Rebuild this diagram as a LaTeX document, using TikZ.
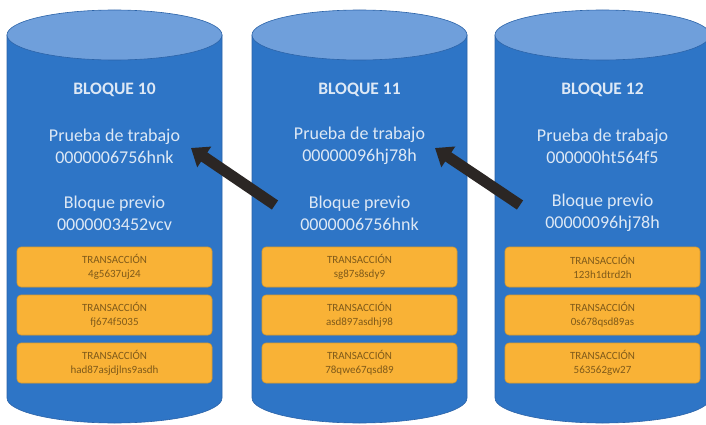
\documentclass[tikz,border=0pt]{standalone}
\usepackage{fontspec}
\setmainfont{Carlito}
\usetikzlibrary{arrows.meta}

\definecolor{cylbody}{HTML}{2E75C6}
\definecolor{cyltop}{HTML}{6F9FDB}
\definecolor{cyledge}{HTML}{2B63A8}
\definecolor{cyltext}{HTML}{DDE8F5}
\definecolor{txfill}{HTML}{F9B236}
\definecolor{txedge}{HTML}{D99A2B}
\definecolor{txtext}{HTML}{7F5A1A}
\definecolor{chain}{HTML}{2B2624}

\tikzset{
  title/.style={text=cyltext, font=\fontsize{17.5}{20}\selectfont\bfseries, align=center},
  info/.style={text=cyltext, font=\fontsize{18}{22}\selectfont, align=center},
  txbox/.style={fill=txfill, draw=txedge, line width=0.6pt, rounded corners=4pt,
    minimum width=195pt, minimum height=40pt, inner sep=0pt,
    text=txtext, font=\fontsize{11}{13.5}\selectfont, align=center},
  chainarrow/.style={draw=chain, line width=11pt,
    -{Triangle[width=24pt,length=16pt]}}
}

% one storage cylinder centred at the given x
\newcommand{\blockcyl}[1]{%
  \fill[cylbody, draw=cyledge, line width=0.6pt]
    (#1-107.5,389) -- (#1-107.5,26)
    arc[start angle=180, end angle=360, x radius=107.5, y radius=25]
    -- (#1+107.5,389) -- cycle;
  \fill[cyltop, draw=cyledge, line width=0.6pt]
    (#1,389) ellipse [x radius=107.5, y radius=25];
}

\begin{document}
\begin{tikzpicture}[x=1pt, y=1pt]
  \useasboundingbox (0,0) rectangle (706,424);
  \fill[white] (0,0) rectangle (706,424);

  \begin{scope}
    \clip (0,0) rectangle (706,424);
    \blockcyl{114.5}
    \blockcyl{359.5}
    \blockcyl{602.5}
  \end{scope}

  % block 10
  \node[title] (b10) at (114.5,334) {BLOQUE 10};
  \node[info]  (pow10) at (114.5,278) {Prueba de trabajo\\0000006756hnk};
  \node[info]  (prev10) at (114.5,211) {Bloque previo\\0000003452vcv};
  \node[txbox] (t10a) at (114.5,157) {TRANSACCIÓN\\4g5637uj24};
  \node[txbox] (t10b) at (114.5,109) {TRANSACCIÓN\\fj674f5035};
  \node[txbox] (t10c) at (114.5,61)  {TRANSACCIÓN\\had87asjdjlns9asdh};

  % block 11
  \node[title] (b11) at (359.5,334) {BLOQUE 11};
  \node[info]  (pow11) at (359.5,278) {Prueba de trabajo\\00000096hj78h};
  \node[info]  (prev11) at (359.5,211) {Bloque previo\\0000006756hnk};
  \node[txbox] (t11a) at (359.5,157) {TRANSACCIÓN\\sg87s8sdy9};
  \node[txbox] (t11b) at (359.5,109) {TRANSACCIÓN\\asd897asdhj98};
  \node[txbox] (t11c) at (359.5,61)  {TRANSACCIÓN\\78qwe67qsd89};

  % block 12
  \node[title] (b12) at (602.5,334) {BLOQUE 12};
  \node[info]  (pow12) at (602.5,278) {Prueba de trabajo\\000000ht564f5};
  \node[info]  (prev12) at (602.5,211) {Bloque previo\\00000096hj78h};
  \node[txbox] (t12a) at (602.5,157) {TRANSACCIÓN\\123h1dtrd2h};
  \node[txbox] (t12b) at (602.5,109) {TRANSACCIÓN\\0s678qsd89as};
  \node[txbox] (t12c) at (602.5,61)  {TRANSACCIÓN\\563562gw27};

  % links: each previous-block hash points back to the earlier proof of work
  \coordinate (tip10) at (191,276);
  \coordinate (tail11) at (275,219);
  \coordinate (tip11) at (435,276);
  \coordinate (tail12) at (520,219);
  \draw[chainarrow] (tail11) -- (tip10);
  \draw[chainarrow] (tail12) -- (tip11);
\end{tikzpicture}
\end{document}
